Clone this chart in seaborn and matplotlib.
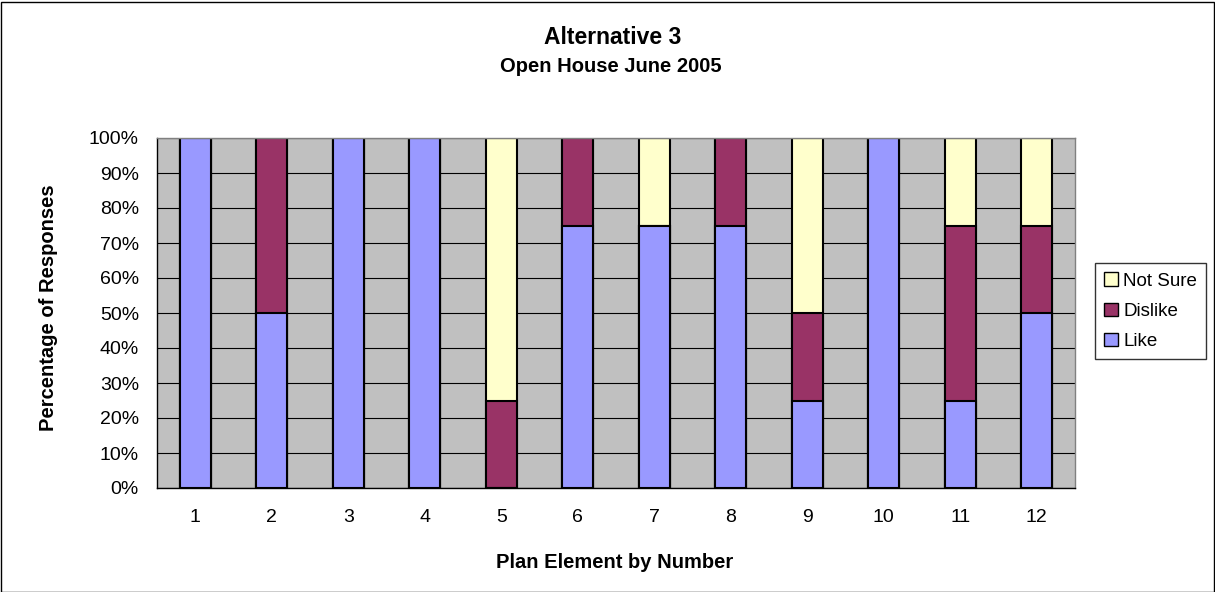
import matplotlib.pyplot as plt
import seaborn as sns
import pandas as pd
from matplotlib.patches import Patch, Rectangle

elements = [str(i) for i in range(1, 13)]
like = [100, 50, 100, 100, 0, 75, 75, 75, 25, 100, 25, 50]
dislike = [0, 50, 0, 0, 25, 25, 0, 25, 25, 0, 50, 25]
not_sure = [0, 0, 0, 0, 75, 0, 25, 0, 50, 0, 25, 25]

LIKE_COLOR = "#9999FF"
DISLIKE_COLOR = "#993366"
NOT_SURE_COLOR = "#FFFFCC"
FONT = ["Liberation Sans", "DejaVu Sans"]


def main() -> None:
    sns.set_style("white")
    plt.rcParams["font.family"] = FONT
    for key in ["text.color", "axes.labelcolor", "xtick.color", "ytick.color"]:
        plt.rcParams[key] = "black"

    df = pd.DataFrame(
        {"element": elements, "Like": like, "Dislike": dislike, "Not Sure": not_sure}
    )
    df["top_like"] = df["Like"]
    df["top_dislike"] = df["Like"] + df["Dislike"]
    df["top_not_sure"] = df["top_dislike"] + df["Not Sure"]

    fig = plt.figure(figsize=(12.15, 5.92), dpi=100)
    ax = fig.add_axes([157 / 1215, 1 - 488 / 592, (1075 - 157) / 1215, (488 - 138) / 592])
    ax.set_facecolor("#C0C0C0")

    # stacked bars: draw cumulative tops from tallest to shortest
    for col, color in [
        ("top_not_sure", NOT_SURE_COLOR),
        ("top_dislike", DISLIKE_COLOR),
        ("top_like", LIKE_COLOR),
    ]:
        sns.barplot(
            data=df, x="element", y=col, order=elements, color=color,
            width=0.41, edgecolor="black", linewidth=1.5, saturation=1, ax=ax,
        )

    ax.set_ylim(0, 100)
    ax.set_xlim(-0.5, 11.5)
    ax.set_yticks(range(0, 101, 10))
    ax.set_yticklabels([f"{v}%" for v in range(0, 101, 10)], fontsize=14)
    ax.yaxis.grid(True, color="black", linewidth=0.8)
    ax.set_axisbelow(True)

    ax.set_xticks([i + 0.5 for i in range(-1, 12)], minor=False)
    ax.set_xticklabels([])
    ax.set_xticks(range(12), minor=True)
    ax.set_xticklabels(elements, minor=True, fontsize=14)
    ax.tick_params(axis="x", which="major", length=5, direction="out", color="black", width=1)
    ax.tick_params(axis="x", which="minor", length=0, pad=15)
    ax.tick_params(axis="y", length=3.6, pad=9.4, direction="out", color="black", width=1)
    ax.set_xlabel("")
    ax.set_ylabel("")
    for side in ["left", "bottom"]:
        ax.spines[side].set_color("black")
        ax.spines[side].set_linewidth(1)
    for side in ["top", "right"]:
        ax.spines[side].set_color("#808080")
        ax.spines[side].set_linewidth(1)

    fig.text(613 / 1215, 1 - 37 / 592, "Alternative 3", ha="center", va="center",
             fontsize=16.5, fontweight="bold")
    fig.text(611 / 1215, 1 - 67 / 592, "Open House June 2005", ha="center", va="center",
             fontsize=14.5, fontweight="bold")
    fig.text(615 / 1215, 1 - 562 / 592, "Plan Element by Number", ha="center", va="center",
             fontsize=14.5, fontweight="bold")
    fig.text(49 / 1215, 1 - 308 / 592, "Percentage of Responses", ha="center", va="center",
             rotation=90, fontsize=14.5, fontweight="bold")

    handles = [
        Patch(facecolor=NOT_SURE_COLOR, edgecolor="black", label="Not Sure"),
        Patch(facecolor=DISLIKE_COLOR, edgecolor="black", label="Dislike"),
        Patch(facecolor=LIKE_COLOR, edgecolor="black", label="Like"),
    ]
    leg = fig.legend(
        handles=handles, loc="upper left", bbox_to_anchor=(1095 / 1215, 1 - 263 / 592),
        frameon=True, fancybox=False, fontsize=13.5, handlelength=0.7, handleheight=0.7,
        handletextpad=0.3, labelspacing=0.7, borderpad=0.5, borderaxespad=0,
    )
    leg.get_frame().set_edgecolor("black")
    leg.get_frame().set_linewidth(1)

    fig.patches.append(Rectangle((0.5 / 1215, 0.5 / 592), 1213 / 1215, 590 / 592,
                                 transform=fig.transFigure, fill=False,
                                 edgecolor="black", linewidth=1))

    fig.savefig("out.png", dpi=100)
    plt.close(fig)


if __name__ == "__main__":
    main()
